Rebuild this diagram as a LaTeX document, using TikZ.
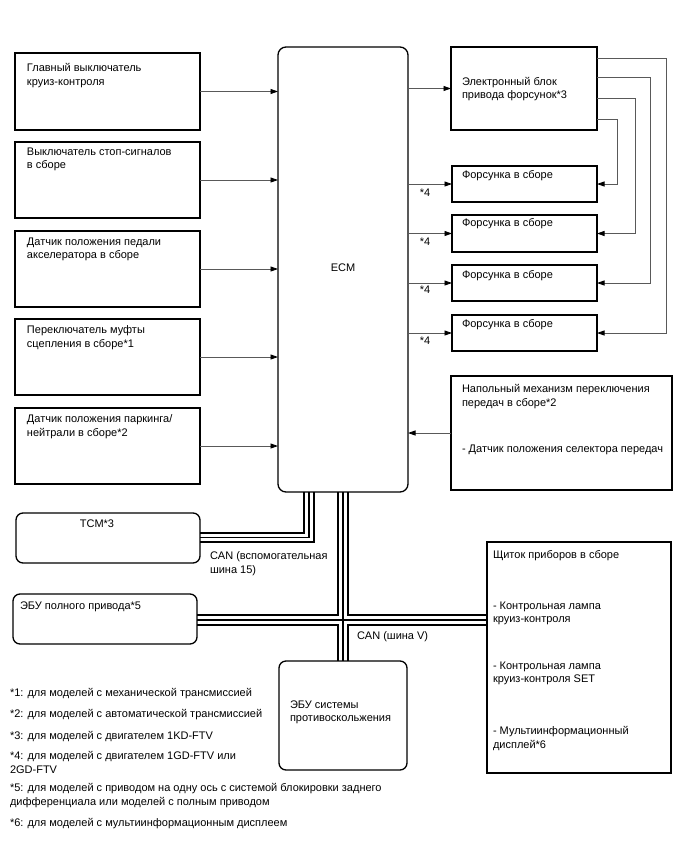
\documentclass[tikz,border=0pt]{standalone}
\usepackage{fontspec}
\setmainfont{Liberation Sans}
\usetikzlibrary{arrows.meta,calc,backgrounds}
\begin{document}
\begin{tikzpicture}[x=1pt,y=-1pt,
  box/.style={draw=black,line width=1.3pt,inner sep=0pt,outer sep=0pt,anchor=north west},
  rbox/.style={box,rounded corners=7pt},
  fnt/.style={font=\fontsize{11}{13.8}\selectfont},
  txt/.style={fnt,inner sep=0pt,outer sep=0pt,align=left,anchor=north west},
  ltxt/.style={txt,anchor=west},
  ctxt/.style={fnt,inner sep=0pt},
  arr/.style={draw=black!65,line width=0.9pt,-{Triangle[length=7.5pt,width=5pt,color=black]}},
  ]
\useasboundingbox (0,0) rectangle (688,852);

% left input boxes
\node[box,minimum width=185pt,minimum height=77pt] (b1) at (15,53) {};
\node[box,minimum width=185pt,minimum height=76pt] (b2) at (15,142) {};
\node[box,minimum width=185pt,minimum height=76pt] (b3) at (15,231) {};
\node[box,minimum width=185pt,minimum height=76pt] (b4) at (15,319) {};
\node[box,minimum width=185pt,minimum height=76pt] (b5) at (15,408) {};
\node[txt] (t1) at (27,63.5) {Главный выключатель\\круиз-контроля};
\node[txt] (t2) at (27,147.5) {Выключатель стоп-сигналов\\в сборе};
\node[txt] (t3) at (27,237.5) {Датчик положения педали\\акселератора в сборе};
\node[txt] (t4) at (27,325.5) {Переключатель муфты\\сцепления в сборе*1};
\node[txt] (t5) at (27,414.5) {Датчик положения паркинга/\\нейтрали в сборе*2};

% ECM
\node[rbox,rounded corners=8pt,minimum width=130pt,minimum height=445pt] (ecm) at (278,47) {};
\node[ctxt] (ecmt) at (343,268) {ECM};

% injector driver and injectors
\node[box,minimum width=146pt,minimum height=83pt] (edu) at (451,47) {};
\node[ltxt] (edut) at (462,89) {Электронный блок\\привода форсунок*3};
\node[box,minimum width=145pt,minimum height=36pt] (inj1) at (452,166) {};
\node[box,minimum width=145pt,minimum height=37pt] (inj2) at (452,215) {};
\node[box,minimum width=145pt,minimum height=36pt] (inj3) at (452,265) {};
\node[box,minimum width=145pt,minimum height=36pt] (inj4) at (452,315) {};
\node[txt] (i1t) at (462,170.5) {Форсунка в сборе};
\node[txt] (i2t) at (462,218.5) {Форсунка в сборе};
\node[txt] (i3t) at (462,270.5) {Форсунка в сборе};
\node[txt] (i4t) at (462,319) {Форсунка в сборе};
\node[ctxt] (s1) at (425,193) {*4};
\node[ctxt] (s2) at (425,242) {*4};
\node[ctxt] (s3) at (425,290) {*4};
\node[ctxt] (s4) at (425,341) {*4};

% floor shift
\node[box,minimum width=221pt,minimum height=114pt] (shift) at (451,376) {};
\node[txt] (sht) at (462,384.5) {Напольный механизм переключения\\передач в сборе*2};
\node[ltxt] (sht2) at (462,450) {- Датчик положения селектора передач};

% CAN bus nodes
\node[rbox,minimum width=184pt,minimum height=50pt] (tcm) at (16,513) {};
\node[ctxt] (tcmt) at (97,524) {TCM*3};
\node[rbox,minimum width=184pt,minimum height=50pt] (awd) at (13,594) {};
\node[ltxt] (awdt) at (20,607) {ЭБУ полного привода*5};
\node[rbox,minimum width=128pt,minimum height=109pt] (abs) at (279,661) {};
\node[txt] (abst) at (290,700.5) {ЭБУ системы\\противоскольжения};
\node[box,minimum width=184pt,minimum height=231pt] (meter) at (487,542) {};
\node[ltxt] (m1) at (493,556) {Щиток приборов в сборе};
\node[txt] (m2) at (493,601.5) {- Контрольная лампа\\круиз-контроля};
\node[txt] (m3) at (493,661.5) {- Контрольная лампа\\круиз-контроля SET};
\node[txt] (m4) at (493,726.5) {- Мультиинформационный\\дисплей*6};
\node[txt] (can1) at (210,551.5) {CAN (вспомогательная\\шина 15)};
\node[ltxt] (can2) at (357,637) {CAN (шина V)};

% footnotes
\node[ltxt] (f1) at (10,694) {*1: для моделей с механической трансмиссией};
\node[ltxt] (f2) at (10,715) {*2: для моделей с автоматической трансмиссией};
\node[ltxt] (f3) at (10,737) {*3: для моделей с двигателем 1KD-FTV};
\node[txt] (f4) at (10,751.5) {*4: для моделей с двигателем 1GD-FTV или\\2GD-FTV};
\node[txt] (f5) at (10,783.5) {*5: для моделей с приводом на одну ось с системой блокировки заднего\\дифференциала или моделей с полным приводом};
\node[ltxt] (f6) at (10,824) {*6: для моделей с мультиинформационным дисплеем};

% input arrows
\foreach \b in {b1,b2,b3,b4,b5}
  \draw[arr] (\b.east) -- (\b.east -| ecm.west);
\draw[arr] (edu.west -| ecm.east) -- (edu.west);
\foreach \i in {inj1,inj2,inj3,inj4}
  \draw[arr] (\i.west -| ecm.east) -- (\i.west);
\draw[arr] (shift.west) -- (shift.west -| ecm.east);

% driver to injectors
\draw[arr] ($(edu.north east)+(0,11)$) -| ($(inj4.east)+(69,0)$) -- (inj4.east);
\draw[arr] ($(edu.north east)+(0,30)$) -| ($(inj3.east)+(53,0)$) -- (inj3.east);
\draw[arr] ($(edu.north east)+(0,51)$) -| ($(inj2.east)+(38,0)$) -- (inj2.east);
\draw[arr] ($(edu.north east)+(0,72)$) -| ($(inj1.east)+(20,0)$) -- (inj1.east);

% CAN buses
\begin{scope}[on background layer]
\fill[white] (0,0) rectangle (688,852);
\foreach \w/\c in {11.4/black,7.2/white,1.1/black}{
  \draw[line width=\w pt,draw=\c]
    ($(tcm.north east)+(0,24.5)$) -| ($(ecm.south west)+(31,0)$)
    (ecm.south) -- (abs.north)
    ($(awd.north east)+(0,26)$) -- ($(meter.north west)+(0,78)$);
}
\end{scope}
\end{tikzpicture}
\end{document}
